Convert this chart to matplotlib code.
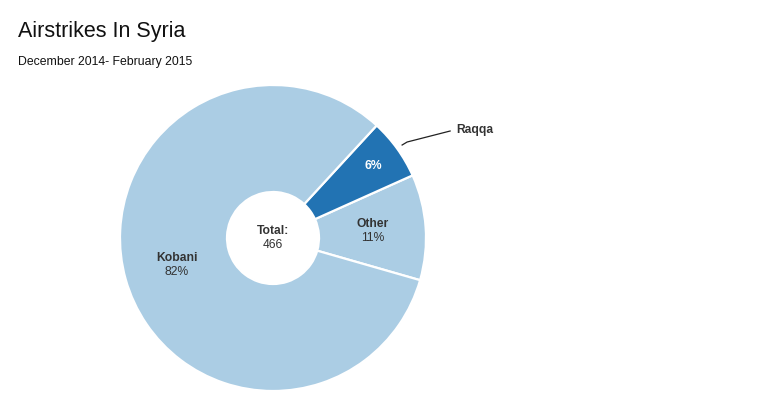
import numpy as np
import matplotlib.pyplot as plt

plt.rcParams['font.family'] = ['Liberation Sans', 'DejaVu Sans']

# data
labels = ["Other", "Raqqa", "Kobani"]
counts = [52, 30, 384]
colors = ["#abcde4", "#2273b3", "#abcde4"]
total = sum(counts)

W, H = 783, 396
fig = plt.figure(figsize=(W / 100, H / 100), dpi=100)
ax = fig.add_axes([0, 0, 1, 1])

cx, cy, R = 273, H - 238, 153
wedges, _ = ax.pie(counts, colors=colors, startangle=-16, center=(cx, cy),
                   radius=R, frame=True,
                   wedgeprops=dict(width=R - 46, edgecolor="white", linewidth=1.6))
ax.set_xlim(0, W)
ax.set_ylim(0, H)
ax.set_aspect("equal")
ax.axis("off")

txt = "#333333"
fs = 8.7
for w, lab, n in zip(wedges, labels, counts):
    mid = np.deg2rad((w.theta1 + w.theta2) / 2)
    pct = f"{round(n / total * 100)}%"
    if lab == "Raqqa":
        r = 0.81 * R
        ax.text(cx + r * np.cos(mid), cy + r * np.sin(mid), pct, color="white",
                fontsize=fs, fontweight="bold", ha="center", va="center")
        # leader line: short hook off the slice, then straight to the label
        x0, y0 = cx + 1.04 * R * np.cos(mid), cy + 1.04 * R * np.sin(mid)
        xs = [x0, x0 + 5, x0 + 48]
        ys = [y0, y0 + 3, y0 + 14]
        ax.plot(xs, ys, color="#222222", lw=0.9)
        ax.text(xs[-1] + 6, ys[-1] + 1, lab, color=txt, fontsize=fs,
                fontweight="bold", ha="left", va="center")
    else:
        r = 0.655 * R
        x, y = cx + r * np.cos(mid), cy + r * np.sin(mid)
        ax.text(x, y + 7, lab, color=txt, fontsize=fs, fontweight="bold",
                ha="center", va="center")
        ax.text(x, y - 7, pct, color=txt, fontsize=fs, ha="center", va="center")

ax.text(cx, cy + 7, "Total:", color=txt, fontsize=fs, fontweight="bold",
        ha="center", va="center")
ax.text(cx, cy - 7, str(total), color=txt, fontsize=fs, ha="center", va="center")

fig.text(18 / W, 1 - 31 / H, "Airstrikes In Syria", fontsize=15.5, color="#111111",
         ha="left", va="center")
fig.text(18 / W, 1 - 62 / H, "December 2014- February 2015", fontsize=8.8,
         color="#111111", ha="left", va="center")

fig.savefig("out.png", dpi=100)
